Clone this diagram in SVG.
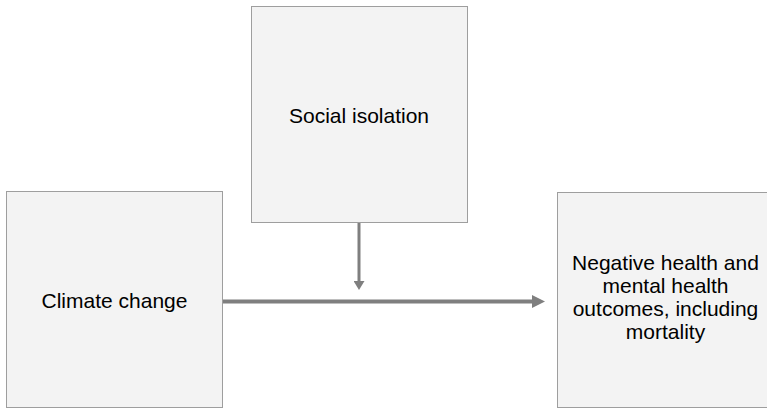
<svg xmlns="http://www.w3.org/2000/svg" width="767" height="410" viewBox="0 0 767 410">
  <style>
    .box { fill: #f3f3f3; stroke: #9e9e9e; stroke-width: 1; }
    .label { font-family: "Liberation Sans", Arial, sans-serif; font-size: 21px; fill: #000000; text-anchor: middle; }
    .link { stroke: #7f7f7f; fill: none; }
  </style>
  <defs>
    <marker id="headLarge" markerUnits="userSpaceOnUse" markerWidth="13" markerHeight="13" refX="0" refY="6.5" orient="auto">
      <path d="M0,0 L13,6.5 L0,13 z" fill="#7f7f7f"/>
    </marker>
    <marker id="headSmall" markerUnits="userSpaceOnUse" markerWidth="9" markerHeight="11" refX="0" refY="5.5" orient="auto">
      <path d="M0,0 L9,5.5 L0,11 z" fill="#7f7f7f"/>
    </marker>
  </defs>
  <rect width="767" height="410" fill="#ffffff"/>

  <g id="climate-change">
    <rect class="box" x="6.5" y="191.5" width="216" height="216"/>
    <text class="label" x="114.5" y="308">Climate change</text>
  </g>

  <g id="social-isolation">
    <rect class="box" x="251.5" y="6.5" width="216" height="216"/>
    <text class="label" x="359" y="123">Social isolation</text>
  </g>

  <g id="health-outcomes">
    <rect class="box" x="557.5" y="192.5" width="216" height="215"/>
    <text class="label" x="665.5" y="270">Negative health and</text>
    <text class="label" x="665.5" y="293">mental health</text>
    <text class="label" x="665.5" y="316">outcomes, including</text>
    <text class="label" x="665.5" y="339">mortality</text>
  </g>

  <g id="connectors">
    <line class="link" x1="223" y1="301.5" x2="532" y2="301.5" stroke-width="4" marker-end="url(#headLarge)"/>
    <line class="link" x1="359" y1="223" x2="359" y2="281" stroke-width="3" marker-end="url(#headSmall)"/>
  </g>
</svg>
